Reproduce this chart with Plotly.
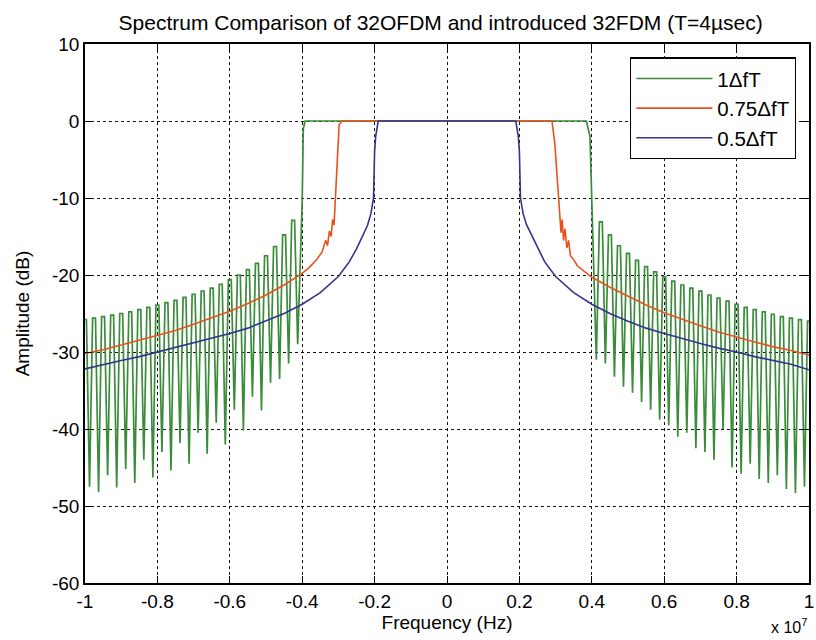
import plotly.graph_objects as go

# ---------------- data (frequency in units of 1e7 Hz, amplitude in dB) ----------------
SCALE = 1e7
LOBE = 0.025  # sidelobe spacing (0.025e7 Hz = 250 kHz)

# 1ΔfT (green) : sidelobe peaks / nulls
green_left_peaks = [-25.8, -25.6, -25.4, -25.2, -25.0, -24.8, -24.5, -24.2, -23.9, -23.6,
                    -23.3, -22.9, -22.5, -22.1, -21.7, -21.2, -20.6, -20.0, -19.3, -18.5,
                    -17.5, -16.3, -14.8, -12.9, -10.4]
green_left_troughs = [-47.5, -48.2, -46.0, -47.6, -45.2, -47.0, -44.0, -46.3, -43.0, -45.4,
                      -41.8, -44.5, -40.5, -43.2, -39.2, -42.0, -37.5, -40.2, -35.8, -37.6,
                      -34.0, -33.5, -31.5, -29.0]
green_right_peaks = [-10.0, -13.1, -14.8, -16.2, -17.2, -18.1, -18.9, -19.6, -20.2, -20.8,
                     -21.3, -21.7, -22.1, -22.6, -23.0, -23.4, -23.8, -24.2, -24.5, -24.8,
                     -25.1, -25.4, -25.6, -25.8, -26.0]
green_right_troughs = [-31.0, -31.5, -33.2, -34.5, -35.3, -36.5, -37.5, -38.8, -39.5, -41.0,
                       -40.5, -42.5, -43.0, -44.0, -40.0, -45.0, -45.8, -44.5, -46.5, -47.0,
                       -46.0, -47.8, -48.3, -47.5]
green_band_f = [-0.397, -0.392, 0.385, 0.395]
green_band_db = [-1.0, 0.0, 0.0, -2.0]

# 0.75ΔfT (orange)
orange_f = [-1.0, -0.95, -0.9, -0.85, -0.8, -0.75, -0.7, -0.65, -0.6, -0.55, -0.5, -0.45,
            -0.4, -0.38, -0.36, -0.345, -0.335, -0.33, -0.325, -0.32, -0.316, -0.312,
            -0.308, -0.303, -0.298, -0.29,
            0.29, 0.298, 0.307, 0.312, 0.315, 0.318, 0.322, 0.326, 0.331, 0.336, 0.341, 0.35,
            0.36, 0.38, 0.4, 0.45, 0.5, 0.55, 0.6, 0.65, 0.7, 0.75, 0.8, 0.85, 0.9, 0.95, 1.0]
orange_db = [-30.2, -29.7, -29.1, -28.5, -27.9, -27.2, -26.4, -25.6, -24.7, -23.7, -22.6, -21.3,
             -19.8, -19.0, -18.0, -17.0, -15.5, -16.2, -14.3, -15.0, -12.8, -13.5,
             -10.0, -4.0, -0.5, 0.0,
             0.0, -3.0, -10.0, -12.5, -14.5, -12.8, -15.5, -14.0, -16.5, -15.5, -17.5, -18.0,
             -18.8, -19.6, -20.3, -21.6, -22.8, -23.9, -24.9, -25.8, -26.6, -27.4, -28.1,
             -28.7, -29.3, -29.8, -30.4]

# 0.5ΔfT (blue)
blue_f = [-1.0, -0.95, -0.9, -0.85, -0.8, -0.75, -0.7, -0.65, -0.6, -0.55, -0.5, -0.45,
          -0.4, -0.35, -0.3, -0.27, -0.25, -0.235, -0.22, -0.21, -0.203, -0.2, -0.197, -0.19,
          0.19, 0.197, 0.2, 0.203, 0.21, 0.22, 0.235, 0.25, 0.27, 0.3, 0.35, 0.4, 0.45, 0.5,
          0.55, 0.6, 0.65, 0.7, 0.75, 0.8, 0.85, 0.9, 0.95, 1.0]
blue_db = [-32.2, -31.6, -31.1, -30.6, -30.0, -29.5, -28.9, -28.3, -27.6, -26.9, -26.0, -25.0,
           -23.8, -22.3, -20.2, -18.3, -16.6, -15.2, -13.6, -12.0, -10.0, -4.0, -2.0, 0.0,
           0.0, -2.0, -4.0, -10.0, -12.0, -13.5, -15.0, -16.5, -18.3, -20.2, -22.3, -23.8,
           -25.0, -26.0, -26.9, -27.6, -28.3, -28.9, -29.5, -30.0, -30.6, -31.1, -31.6, -32.3]

x_ticks = [-1, -0.8, -0.6, -0.4, -0.2, 0, 0.2, 0.4, 0.6, 0.8, 1]
x_tick_text = ["-1", "-0.8", "-0.6", "-0.4", "-0.2", "0", "0.2", "0.4", "0.6", "0.8", "1"]
y_ticks = [10, 0, -10, -20, -30, -40, -50, -60]
y_tick_text = ["10", "0", "-10", "-20", "-30", "-40", "-50", "-60"]
series_names = ["1\u0394fT", "0.75\u0394fT", "0.5\u0394fT"]

# ---------------- build green sequence: sidelobe tops separated by nulls --------
HALF_TOP = 0.004


def lobes(first_center, peaks, troughs, edge_index):
    f, v = [], []
    for k, p in enumerate(peaks):
        c = first_center + k * LOBE
        if k == edge_index:
            f.append(c)
            v.append(p)
        else:
            f += [c - HALF_TOP, c + HALF_TOP]
            v += [p, p]
        if k < len(troughs):
            f.append(c + LOBE / 2)
            v.append(troughs[k])
    return f, v


gl_f, gl_v = lobes(-1.0, green_left_peaks, green_left_troughs, len(green_left_peaks) - 1)
gr_f, gr_v = lobes(0.4, green_right_peaks, green_right_troughs, 0)
green_f = gl_f + green_band_f + gr_f
green_db = gl_v + green_band_db + gr_v

FONT = "Liberation Sans, Arial, Helvetica, sans-serif"
GREEN = "#3a8c3a"
ORANGE = "#e8521e"
BLUE = "#34348c"

fig = go.Figure()
for name, fx, fy, col, grp, w in [
    (series_names[0], green_f, green_db, GREEN, "g1", 1.7),
    (series_names[1], orange_f, orange_db, ORANGE, "g2", 1.6),
    (series_names[2], blue_f, blue_db, BLUE, "g3", 1.6),
]:
    fig.add_trace(go.Scatter(
        x=[v * SCALE for v in fx], y=fy, mode="lines", name=name, legendgroup=grp,
        line=dict(color=col, width=w)))

axis_common = dict(
    showline=True, linecolor="black", linewidth=1.5, mirror="ticks",
    ticks="inside", ticklen=7, tickcolor="black", tickwidth=1.2,
    showgrid=True, gridcolor="#111111", gridwidth=1.3, griddash="3px,3px",
    zeroline=False, automargin=False, ticklabeloverflow="allow",
    tickfont=dict(family=FONT, size=19, color="black"),
)
fig.update_xaxes(range=[-SCALE, SCALE], tickvals=[t * SCALE for t in x_ticks],
                 ticktext=x_tick_text,
                 title=dict(text="Frequency (Hz)", font=dict(family=FONT, size=19, color="black"),
                            standoff=1),
                 **axis_common)
fig.update_yaxes(range=[-60, 10], tickvals=y_ticks, ticktext=y_tick_text,
                 title=dict(text="Amplitude (dB)", font=dict(family=FONT, size=19, color="black"),
                            standoff=17),
                 **axis_common)

fig.update_layout(
    width=816, height=640,
    margin=dict(l=85, r=7, t=44, b=57),
    paper_bgcolor="white", plot_bgcolor="white",
    title=dict(text="Spectrum Comparison of 32OFDM and introduced 32FDM (T=4\u00b5sec)",
               x=0.54, xanchor="center", y=0.965, yanchor="middle",
               font=dict(family=FONT, size=21, color="black")),
    showlegend=True,
    legend=dict(x=0.753, y=0.975, xanchor="left", yanchor="top",
                bgcolor="white", bordercolor="black", borderwidth=1.2,
                font=dict(family=FONT, size=20.5, color="black"),
                itemwidth=76, tracegroupgap=0),
    annotations=[dict(text="x 10<sup>7</sup>", xref="paper", yref="paper",
                      x=1.0, y=-0.08, xanchor="right", yanchor="middle", showarrow=False,
                      font=dict(family=FONT, size=16, color="black"))],
)

fig.write_html("out.html", config={"displayModeBar": False},
               post_script="document.body.style.margin='0';")
